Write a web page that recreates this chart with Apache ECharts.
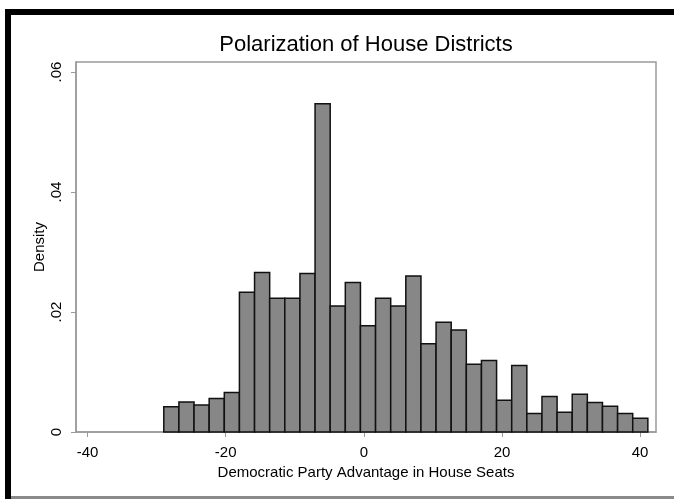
<!DOCTYPE html>
<html>
<head>
<meta charset="utf-8">
<title>Polarization of House Districts</title>
<script src="https://cdn.jsdelivr.net/npm/echarts@6/dist/echarts.min.js"></script>
<style>
  html, body { margin: 0; padding: 0; background: #fff; }
  #chart { width: 674px; height: 499px; }
</style>
</head>
<body>
<div id="chart"></div>
<script>
// Histogram of district-level Democratic advantage (density scale)
const binStart = -28.96;
const binWidth = 2.19;
const densityValues = [
  0.0042, 0.0050, 0.0045, 0.0056, 0.0066, 0.0233, 0.0266, 0.0223,
  0.0223, 0.0264, 0.0547, 0.0210, 0.0249, 0.0177, 0.0223, 0.0210,
  0.0260, 0.0147, 0.0183, 0.0170, 0.0113, 0.0119, 0.0053, 0.0111,
  0.0031, 0.0059, 0.0033, 0.0063, 0.0049, 0.0043, 0.0031, 0.0023
];
const xTickValues = [-40, -20, 0, 20, 40];
const yTickValues = [0, 0.02, 0.04, 0.06];

const titleText = 'Polarization of House Districts';
const xAxisTitle = 'Democratic Party Advantage in House Seats';
const yAxisTitle = 'Density';

// Each bin as [left edge, right edge, density]
const bins = densityValues.map((d, i) => [
  binStart + i * binWidth,
  binStart + (i + 1) * binWidth,
  d
]);

const FONT = '"Liberation Sans", Arial, Helvetica, sans-serif';
const AXIS_GRAY = '#9a9a9a';

const chart = echarts.init(document.getElementById('chart'), null, { renderer: 'canvas' });

chart.setOption({
  backgroundColor: '#ffffff',
  animation: false,
  textStyle: { fontFamily: FONT, color: '#000' },
  grid: {
    left: 76, top: 62, right: 18, bottom: 67,
    show: true, borderColor: AXIS_GRAY, borderWidth: 1.5,
    containLabel: false
  },
  graphic: [
    // frame edges
    { type: 'rect', shape: { x: 5, y: 9, width: 669, height: 6 }, style: { fill: '#000' }, z: 100 },
    { type: 'rect', shape: { x: 5, y: 9, width: 6, height: 490 }, style: { fill: '#000' }, z: 100 },
    { type: 'rect', shape: { x: 11, y: 496, width: 663, height: 3 }, style: { fill: '#8a8a8a' }, z: 100 },
    // chart title
    {
      type: 'text', x: 366, y: 45, z: 100,
      style: {
        text: titleText, align: 'center', verticalAlign: 'middle',
        font: '22px ' + FONT, fill: '#000'
      }
    }
  ],
  xAxis: {
    type: 'value',
    min: -41.67,
    max: 42.3,
    name: xAxisTitle,
    nameLocation: 'middle',
    nameGap: 27,
    nameTextStyle: { fontSize: 15, color: '#000', fontFamily: FONT },
    axisLine: { show: true, onZero: false, lineStyle: { color: AXIS_GRAY, width: 1.5 } },
    axisTick: { show: true, length: 5, customValues: xTickValues, lineStyle: { color: AXIS_GRAY, width: 1 } },
    axisLabel: {
      customValues: xTickValues, margin: 13, fontSize: 15, color: '#000', fontFamily: FONT,
      formatter: v => String(v)
    },
    splitLine: { show: false }
  },
  yAxis: {
    type: 'value',
    min: 0,
    max: 0.06167,
    name: yAxisTitle,
    nameLocation: 'middle',
    nameGap: 29,
    nameRotate: 90,
    nameMoveOverlap: false,
    nameTextStyle: { fontSize: 15, color: '#000', fontFamily: FONT },
    axisLine: { show: true, onZero: false, lineStyle: { color: AXIS_GRAY, width: 1.5 } },
    axisTick: { show: true, length: 5, customValues: yTickValues, lineStyle: { color: AXIS_GRAY, width: 1 } },
    axisLabel: {
      customValues: yTickValues, rotate: 90, margin: 12, fontSize: 15, color: '#000', fontFamily: FONT,
      formatter: v => (v === 0 ? '0' : v.toFixed(2).replace(/^0/, ''))
    },
    splitLine: { show: false }
  },
  series: [{
    type: 'custom',
    data: bins,
    encode: { x: [0, 1], y: 2 },
    renderItem: function (params, api) {
      const base = api.coord([api.value(0), 0]);
      const top = api.coord([api.value(1), api.value(2)]);
      return {
        type: 'rect',
        shape: { x: base[0], y: top[1], width: top[0] - base[0], height: base[1] - top[1] },
        style: { fill: '#878787', stroke: '#111', lineWidth: 1.5 }
      };
    }
  }]
});
</script>
</body>
</html>
